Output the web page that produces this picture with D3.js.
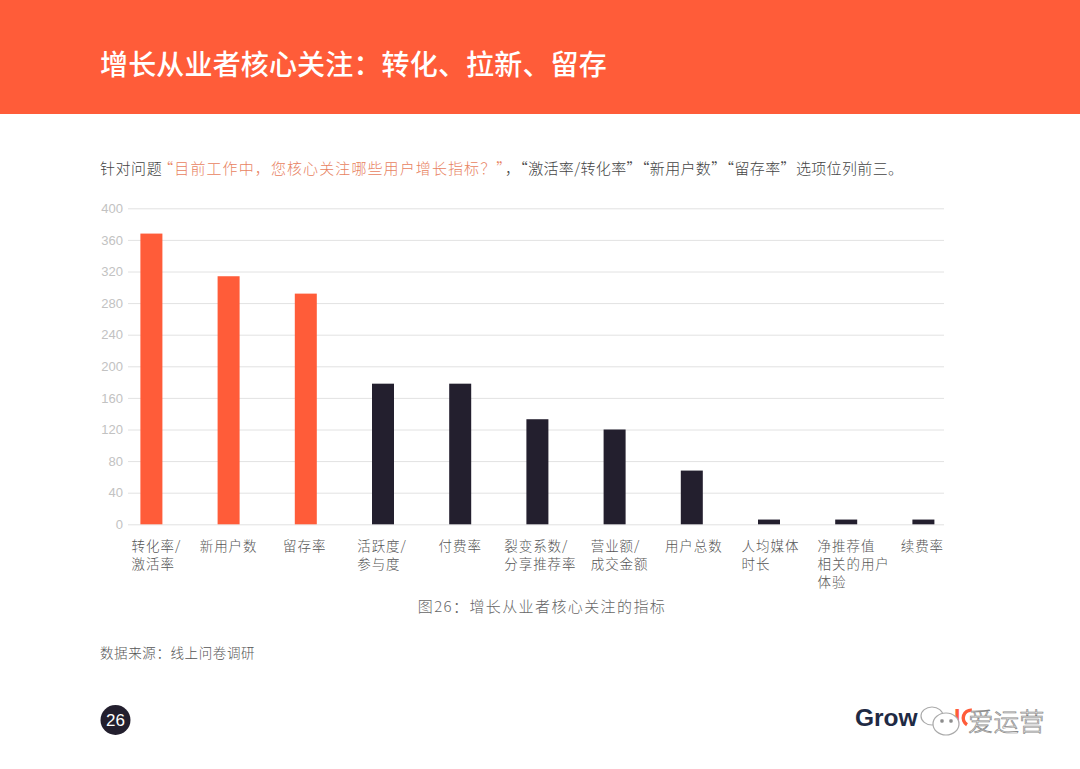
<!DOCTYPE html>
<html><head><meta charset="utf-8">
<script src="https://cdn.jsdelivr.net/npm/d3@7/dist/d3.min.js"></script>
<style>
html,body{margin:0;padding:0;background:#fff}
svg{display:block}
text{font-family:"Noto Sans CJK SC","Noto Sans",sans-serif}
</style></head><body>
<svg id="c" width="1080" height="769"></svg>
<script>
const categories=["转化率/|激活率","新用户数","留存率","活跃度/|参与度","付费率","裂变系数/|分享推荐率","营业额/|成交金额","用户总数","人均媒体|时长","净推荐值|相关的用户|体验","续费率"];
const values=[368,314,292,178,178,133,120,68,6,6,6];
const highlighted=["转化率/|激活率","新用户数","留存率"];
const yTicks=[0,40,80,120,160,200,240,280,320,360,400];
const titleText="增长从业者核心关注：转化、拉新、留存";
const subtitleLead="针对问题";
const subtitleQuestion="“目前工作中，您核心关注哪些用户增长指标？”";
const subtitleTail="，“激活率/转化率”“新用户数”“留存率”选项位列前三。";
const captionText="图26：增长从业者核心关注的指标";
const sourceText="数据来源：线上问卷调研";

const svg=d3.select("#c");
const orange="#FF5C39",dark="#231F2E";
svg.append("rect").attr("width",1080).attr("height",114).attr("fill",orange);
svg.append("text").attr("x",100).attr("y",75).attr("fill","#fff").attr("font-size",28).attr("letter-spacing",0.16).attr("font-weight",500).text(titleText);

const sub=svg.append("text").attr("x",100).attr("y",174).attr("font-size",15).attr("font-weight",300);
sub.append("tspan").attr("fill","#444").attr("letter-spacing",0.55).text(subtitleLead);
sub.append("tspan").attr("fill","#E8835F").attr("dx",-4).attr("letter-spacing",1.1).text(subtitleQuestion);
sub.append("tspan").attr("fill","#444").attr("letter-spacing",0.36).text(subtitleTail);

const x=d3.scaleBand().domain(categories).range([112.8,962]).paddingInner(0.715).paddingOuter(0.3575);
const y=d3.scaleLinear().domain([0,400]).range([524.3,208.3]);

const yAxis=d3.axisLeft(y).tickValues(yTicks).tickSize(0).tickPadding(5);
const gy=svg.append("g").attr("transform","translate(128,0)").call(yAxis);
gy.select(".domain").remove();
gy.selectAll("text").attr("fill","#c2c2c2").attr("font-size",13).attr("font-weight",300).style("font-family",'"Liberation Sans",sans-serif');
gy.selectAll(".tick").append("line").attr("x1",0).attr("x2",816).attr("stroke","#e2e2e2").attr("stroke-width",1);

svg.append("g").selectAll("rect").data(categories).join("rect")
  .attr("x",d=>x(d)).attr("width",x.bandwidth())
  .attr("y",(d,i)=>y(values[i])).attr("height",(d,i)=>y(0)-y(values[i]))
  .attr("fill",d=>highlighted.includes(d)?orange:dark);

const labelNudge=[5,0,-1,-1,0,3,5,2,1.5,7.5,-1];
const labels=svg.append("g").selectAll("g").data(categories).join("g");
labels.each(function(d,idx){
  const lines=d.split("|");
  const g=d3.select(this);
  const t=g.append("text").attr("font-size",13.5).attr("letter-spacing",0.95).attr("font-weight",300).attr("fill","#555");
  lines.forEach((l,i)=>t.append("tspan").attr("x",0).attr("y",550.5+i*18).text(l));
  const w=t.node().getBBox().width;
  const c=x(d)+x.bandwidth()/2;
  g.attr("transform",`translate(${c-w/2+labelNudge[idx]},0)`);
});

svg.append("text").attr("x",542).attr("y",612).attr("text-anchor","middle").attr("font-size",15).attr("letter-spacing",1.4).attr("font-weight",300).attr("fill","#666").text(captionText);
svg.append("text").attr("x",100).attr("y",658).attr("font-size",13.5).attr("letter-spacing",0.6).attr("font-weight",300).attr("fill","#555").text(sourceText);

svg.append("circle").attr("cx",115.5).attr("cy",720).attr("r",15).attr("fill",dark);
svg.append("text").attr("x",115.5).attr("y",726).attr("text-anchor","middle").attr("fill","#fff").attr("font-size",17).style("font-family",'"Liberation Sans",sans-serif').text("26");

// footer logo, partly covered by the watermark
svg.append("text").attr("x",855).attr("y",726).attr("fill","#1f2a44").attr("font-size",24.5).attr("font-weight",700).style("font-family",'"Liberation Sans",sans-serif').text("Grow");
svg.append("text").attr("x",954).attr("y",726).attr("fill",orange).attr("font-size",23).attr("font-weight",700).style("font-family",'"Liberation Sans",sans-serif').text("I");
svg.append("path").attr("transform","translate(971,718)").attr("fill",orange)
  .attr("d",d3.arc()({innerRadius:6,outerRadius:9.5,startAngle:-2.6,endAngle:0.1}));
const wm=svg.append("g").attr("fill","#fff").attr("stroke","#aaa").attr("stroke-width",1.2);
wm.append("ellipse").attr("cx",932).attr("cy",716).attr("rx",11).attr("ry",9);
wm.append("ellipse").attr("cx",946).attr("cy",724).attr("rx",13).attr("ry",11);
wm.append("circle").attr("cx",942).attr("cy",721).attr("r",1.4).attr("fill","#666");
wm.append("circle").attr("cx",951).attr("cy",721).attr("r",1.4).attr("fill","#666");
svg.append("text").attr("x",968).attr("y",731).attr("font-size",25.5).attr("font-weight",300).attr("fill","#fff").attr("stroke","#888").attr("stroke-width",0.7).text("爱运营");
</script>
</body></html>
